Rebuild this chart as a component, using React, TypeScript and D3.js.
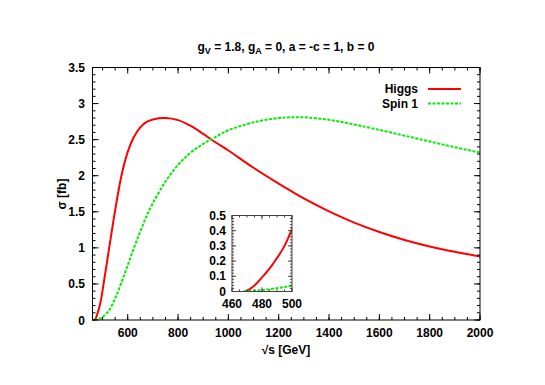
import React from "react";
import * as d3 from "d3";

// sqrt(s) in GeV, cross-section in fb
const sqrtS = [
  468, 470, 475, 480, 485, 490, 495, 500, 525, 550, 575, 600, 625, 650, 675,
  700, 750, 800, 850, 900, 950, 1000, 1100, 1200, 1250, 1300, 1400, 1500, 1600,
  1700, 1800, 1900, 2000,
];
const higgs = [
  0, 0.006, 0.04, 0.093, 0.15, 0.22, 0.3, 0.41, 0.97, 1.52, 2.0, 2.33, 2.54,
  2.67, 2.745, 2.78, 2.8, 2.77, 2.69, 2.58, 2.46, 2.35, 2.11, 1.89, 1.785, 1.685,
  1.505, 1.35, 1.22, 1.11, 1.02, 0.945, 0.88,
];
const spin1 = [
  0.001, 0.002, 0.005, 0.01, 0.015, 0.022, 0.03, 0.04, 0.13, 0.3, 0.52, 0.76,
  1.0, 1.23, 1.44, 1.62, 1.92, 2.15, 2.32, 2.44, 2.54, 2.63, 2.74, 2.8, 2.81,
  2.81, 2.775, 2.71, 2.635, 2.555, 2.475, 2.395, 2.32,
];

const xTicks = [600, 800, 1000, 1200, 1400, 1600, 1800, 2000];
const yTicks = [0, 0.5, 1, 1.5, 2, 2.5, 3, 3.5];
const insetXTicks = [460, 480, 500];
const insetYTicks = [0, 0.1, 0.2, 0.3, 0.4, 0.5];

const series = [
  { name: "Higgs", values: higgs, color: "#ff0000", dash: null },
  { name: "Spin 1", values: spin1, color: "#00ee00", dash: "3,1.5" },
];

const W = 545;
const H = 385;
const font = "'Liberation Sans', Arial, sans-serif";

const x = d3.scaleLinear().domain([460, 2000]).range([92.5, 480]);
const y = d3.scaleLinear().domain([0, 3.5]).range([320, 67.5]);

const ix = d3.scaleLinear().domain([460, 500]).range([232, 292]);
const iy = d3.scaleLinear().domain([0, 0.5]).range([291.5, 215.5]);

const range = (a: number, b: number, s: number) =>
  d3.range(Math.round(a / s), Math.round(b / s) + 1).map((k) => +(k * s).toFixed(4));

const Frame = ({ xs, ys, xMajor, xMinor, yMajor, yMinor, big, color }: any) => {
  const [x0, x1] = xs.range();
  const [y0, y1] = ys.range();
  const maj = big ? 6 : 4;
  const min = big ? 3 : 2;
  return (
    <g stroke={color} strokeWidth={1} fill="none">
      {xMinor.map((t: number) => (
        <g key={"xm" + t}>
          <line x1={xs(t)} x2={xs(t)} y1={y0} y2={y0 - min} />
          <line x1={xs(t)} x2={xs(t)} y1={y1} y2={y1 + min} />
        </g>
      ))}
      {xMajor.map((t: number) => (
        <g key={"xM" + t}>
          <line x1={xs(t)} x2={xs(t)} y1={y0} y2={y0 - maj} />
          <line x1={xs(t)} x2={xs(t)} y1={y1} y2={y1 + maj} />
        </g>
      ))}
      {yMinor.map((t: number) => (
        <g key={"ym" + t}>
          <line x1={x0} x2={x0 + min} y1={ys(t)} y2={ys(t)} />
          <line x1={x1} x2={x1 - min} y1={ys(t)} y2={ys(t)} />
        </g>
      ))}
      {yMajor.map((t: number) => (
        <g key={"yM" + t}>
          <line x1={x0} x2={x0 + maj} y1={ys(t)} y2={ys(t)} />
          <line x1={x1} x2={x1 - maj} y1={ys(t)} y2={ys(t)} />
        </g>
      ))}
      <rect x={x0} y={y1} width={x1 - x0} height={y0 - y1} />
    </g>
  );
};

export default function App() {
  const pts = sqrtS.map((s, i) => i);
  const curve = d3.curveCatmullRom.alpha(0.5);
  const mainLine = (vals: number[]) =>
    d3
      .line<number>()
      .x((i) => x(sqrtS[i]))
      .y((i) => y(vals[i]))
      .curve(curve)(pts);
  const insetIdx = pts.filter((i) => sqrtS[i] <= 550);
  const insetLine = (vals: number[]) =>
    d3
      .line<number>()
      .x((i) => ix(sqrtS[i]))
      .y((i) => iy(vals[i]))
      .curve(curve)(insetIdx);

  const labelStyle = { fontFamily: font, fontWeight: "bold", fontSize: 12 } as const;

  return (
    <svg
      width={W}
      height={H}
      style={{ position: "absolute", left: 0, top: 0, background: "#fff" }}
    >
      <defs>
        <clipPath id="mainClip">
          <rect x={92.5} y={67.5} width={480 - 92.5} height={320 - 67.5} />
        </clipPath>
        <clipPath id="insetClip">
          <rect x={232} y={215.5} width={60} height={76} />
        </clipPath>
      </defs>

      {/* title */}
      <text x={286} y={51} textAnchor="middle" {...labelStyle}>
        g<tspan fontSize={9} dy={3}>V</tspan>
        <tspan dy={-3}> = 1.8, g</tspan>
        <tspan fontSize={9} dy={3}>A</tspan>
        <tspan dy={-3}> = 0, a = -c = 1, b = 0</tspan>
      </text>

      {/* main curves */}
      <g clipPath="url(#mainClip)">
        {series.map((s) => (
          <path
            key={s.name}
            d={mainLine(s.values) || ""}
            fill="none"
            stroke={s.color}
            strokeWidth={2}
            strokeDasharray={s.dash || undefined}
          />
        ))}
      </g>

      <Frame
        xs={x}
        ys={y}
        xMajor={xTicks}
        xMinor={range(500, 2000, 50)}
        yMajor={yTicks}
        yMinor={range(0, 3.5, 0.1)}
        big
        color="#000"
      />

      {xTicks.map((t) => (
        <text key={t} x={x(t)} y={337} textAnchor="middle" {...labelStyle}>
          {t}
        </text>
      ))}
      {yTicks.map((t) => (
        <text key={t} x={85} y={y(t) + 4.5} textAnchor="end" {...labelStyle}>
          {t}
        </text>
      ))}

      <text x={286} y={354} textAnchor="middle" {...labelStyle}>
        √s [GeV]
      </text>
      <text
        transform="translate(66,194) rotate(-90)"
        textAnchor="middle"
        {...labelStyle}
      >
        σ [fb]
      </text>

      {/* legend */}
      {series.map((s, i) => (
        <g key={s.name}>
          <text x={418} y={93 + i * 14.5} textAnchor="end" {...labelStyle}>
            {s.name}
          </text>
          <line
            x1={428}
            x2={461}
            y1={89 + i * 14.5}
            y2={89 + i * 14.5}
            stroke={s.color}
            strokeWidth={2}
            strokeDasharray={s.dash || undefined}
          />
        </g>
      ))}

      {/* inset */}
      <rect x={232} y={215.5} width={60} height={76} fill="#fff" />
      <g clipPath="url(#insetClip)">
        {series.map((s) => (
          <path
            key={s.name}
            d={insetLine(s.values) || ""}
            fill="none"
            stroke={s.color}
            strokeWidth={2}
            strokeDasharray={s.dash || undefined}
          />
        ))}
      </g>
      <Frame
        xs={ix}
        ys={iy}
        xMajor={insetXTicks}
        xMinor={range(460, 500, 5)}
        yMajor={insetYTicks}
        yMinor={range(0, 0.5, 0.02)}
        big={false}
        color="#444"
      />
      {insetXTicks.map((t) => (
        <text key={t} x={ix(t)} y={308} textAnchor="middle" {...labelStyle}>
          {t}
        </text>
      ))}
      {insetYTicks.map((t) => (
        <text key={t} x={226} y={iy(t) + 4} textAnchor="end" {...labelStyle}>
          {t}
        </text>
      ))}
    </svg>
  );
}
